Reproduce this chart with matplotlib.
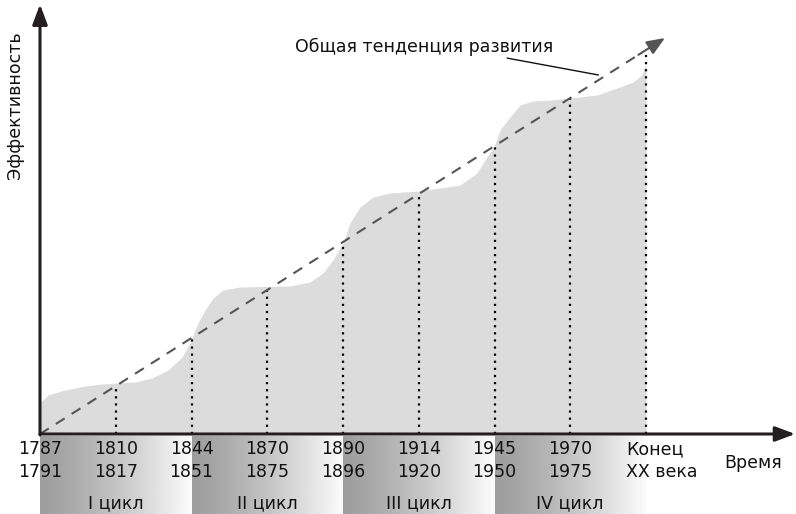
import numpy as np
import matplotlib
matplotlib.use('Agg')
import matplotlib.pyplot as plt

# boundaries between phases (x in "phase" units, 0 = 1787)
bounds = [0, 1, 2, 3, 4, 5, 6, 7, 8]
years_top = ['1787', '1810', '1844', '1870', '1890', '1914', '1945', '1970', 'Конец']
years_bot = ['1791', '1817', '1851', '1875', '1896', '1920', '1950', '1975', 'XX века']
cycles = ['I цикл', 'II цикл', 'III цикл', 'IV цикл']

# efficiency curve (schematic)
curve_x = [0.0, 0.04, 0.106, 0.33, 0.594, 0.818, 1.017, 1.254, 1.479, 1.69, 1.875, 1.98,
           2.02, 2.086, 2.178, 2.284, 2.416, 2.64, 3.3, 3.564, 3.736, 3.868, 4.0, 4.092,
           4.224, 4.396, 4.62, 5.003, 5.281, 5.545, 5.769, 5.901, 5.993, 6.073, 6.205,
           6.337, 6.508, 6.733, 7.01, 7.353, 7.617, 7.828, 7.947, 8.0]
curve_y = [0.667, 0.708, 0.8125, 0.917, 1.0, 1.042, 1.0625, 1.083, 1.167, 1.333, 1.604, 1.896,
           2.0625, 2.3125, 2.583, 2.833, 3.0, 3.0625, 3.083, 3.167, 3.354, 3.625, 3.979, 4.396,
           4.729, 4.9375, 5.021, 5.0625, 5.125, 5.1875, 5.4375, 5.771, 5.979, 6.333, 6.604,
           6.854, 6.9375, 6.958, 7.0, 7.0625, 7.208, 7.333, 7.479, 7.729]

# general trend line
trend_x = [0, 8.25]
trend_y = [0, 8.25]

fig = plt.figure(figsize=(7.96, 5.14), dpi=100)
ax = fig.add_axes([0, 0, 1, 1])
plt.rcParams['font.family'] = 'DejaVu Sans'

axcol = '#231f20'

# gray area under curve
ax.fill_between(curve_x, 0, curve_y, color='#dcdcdc', lw=0, zorder=1)

# gradient blocks for cycles
grad = (0.62 + 0.37 * np.linspace(0, 1, 200) ** 1.3).reshape(1, -1)
for i, name in enumerate(cycles):
    ax.imshow(grad, extent=[2 * i, 2 * i + 2, -1.7, -0.06], cmap='gray', vmin=0, vmax=1,
              aspect='auto', zorder=1)
    ax.text(2 * i + 1, -1.44, name, ha='center', va='center', fontsize=12.5, color='#111')

# dotted verticals up to trend line
for b in bounds[1:]:
    ax.plot([b, b], [0, b], ls=(0, (1, 2.2)), color='black', lw=1.6, zorder=3)

# trend line with arrowhead
ax.plot([trend_x[0], 7.95], [trend_y[0], 7.95], ls=(0, (5, 4)), color='#555555', lw=1.5, zorder=4)
ax.annotate('', xy=(trend_x[1], trend_y[1]), xytext=(7.9, 7.9),
            arrowprops=dict(arrowstyle='-|>,head_length=1.1,head_width=0.45', color='#555555',
                            lw=1.5, shrinkA=0, shrinkB=0), zorder=5)
ax.text(3.37, 8.06, 'Общая тенденция развития', ha='left', va='center', fontsize=12.5, color='#111')
ax.plot([6.17, 7.37], [7.83, 7.48], color='#111', lw=1.0)

# axes arrows
ax.annotate('', xy=(9.97, 0), xytext=(0, 0),
            arrowprops=dict(arrowstyle='-|>,head_length=1.2,head_width=0.45', color=axcol,
                            lw=2.2, shrinkA=0, shrinkB=0), zorder=6)
ax.annotate('', xy=(0, 8.95), xytext=(0, -0.02),
            arrowprops=dict(arrowstyle='-|>,head_length=1.2,head_width=0.45', color=axcol,
                            lw=2.2, shrinkA=0, shrinkB=0), zorder=6)

# year labels
for b, t1, t2 in zip(bounds, years_top, years_bot):
    if b == 8:
        ax.text(7.74, -0.31, t1, ha='left', va='center', fontsize=12.5, color='#111')
        ax.text(7.74, -0.79, t2, ha='left', va='center', fontsize=12.5, color='#111')
    else:
        ax.text(b, -0.31, t1, ha='center', va='center', fontsize=12.5, color='#111')
        ax.text(b, -0.79, t2, ha='center', va='center', fontsize=12.5, color='#111')

ax.text(9.41, -0.6, 'Время', ha='center', va='center', fontsize=12.5, color='#111')
ax.text(-0.33, 6.85, 'Эффективность', ha='center', va='center', rotation=90, fontsize=12.5, color='#111')

ax.set_xlim(-40 / 75.75, 756 / 75.75)
ax.set_ylim(-80 / 48, 434 / 48)
ax.axis('off')

fig.savefig('out.png', dpi=100)
